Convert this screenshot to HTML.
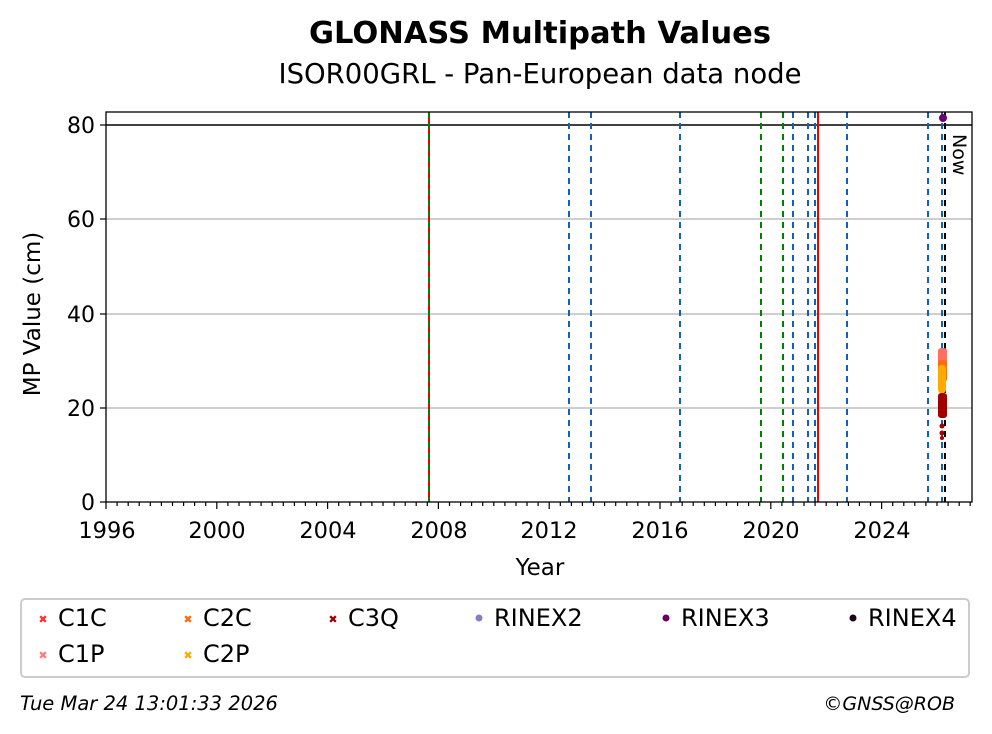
<!DOCTYPE html>
<html><head><meta charset="utf-8"><style>
body{margin:0;background:#fff;}
svg{display:block;font-family:"DejaVu Sans","Liberation Sans",sans-serif;}
</style></head><body>
<svg width="992" height="734" viewBox="0 0 992 734" xmlns="http://www.w3.org/2000/svg">
<rect width="992" height="734" fill="#fff"/>
<text x="540" y="43" text-anchor="middle" font-size="30.5" font-weight="bold">GLONASS Multipath Values</text>
<text x="540" y="83" text-anchor="middle" font-size="27.5">ISOR00GRL - Pan-European data node</text>
<g stroke="#b0b0b0" stroke-width="1.2">
<line x1="106" x2="972" y1="408" y2="408"/>
<line x1="106" x2="972" y1="314" y2="314"/>
<line x1="106" x2="972" y1="219" y2="219"/>
</g>
<line x1="106" x2="972" y1="125" y2="125" stroke="#000" stroke-width="1.5"/>
<g stroke-width="2" stroke-dasharray="6,5">
<line x1="429" x2="429" y1="112" y2="502" stroke="#e00" stroke-dasharray="none"/>
<line x1="429" x2="429" y1="112" y2="502" stroke="#008000"/>
<line x1="569" x2="569" y1="112" y2="502" stroke="#1060c0"/>
<line x1="591" x2="591" y1="112" y2="502" stroke="#1060c0"/>
<line x1="680" x2="680" y1="112" y2="502" stroke="#1060c0"/>
<line x1="761" x2="761" y1="112" y2="502" stroke="#008000"/>
<line x1="783" x2="783" y1="112" y2="502" stroke="#008000"/>
<line x1="793" x2="793" y1="112" y2="502" stroke="#1060c0"/>
<line x1="808" x2="808" y1="112" y2="502" stroke="#1060c0"/>
<line x1="815" x2="815" y1="112" y2="502" stroke="#1060c0"/>
<line x1="818" x2="818" y1="112" y2="502" stroke="#e00" stroke-dasharray="none"/>
<line x1="847" x2="847" y1="112" y2="502" stroke="#1060c0"/>
<line x1="928" x2="928" y1="112" y2="502" stroke="#1060c0"/>
<line x1="942" x2="942" y1="112" y2="502" stroke="#1060c0"/>
<line x1="945" x2="945" y1="112" y2="502" stroke="#000"/>
</g>
<g>
<rect x="938" y="348" width="9" height="32" fill="#ff7060" rx="3"/>
<rect x="938" y="360" width="9" height="22" fill="#ff6a10" rx="3"/>
<rect x="938" y="365" width="8" height="28" fill="#ffaa00" rx="3"/>
<rect x="938" y="393" width="9" height="25" fill="#a00000" rx="3"/>
<circle cx="942" cy="426" r="2.5" fill="#a00000"/>
<circle cx="942" cy="433" r="2.5" fill="#a00000"/>
<circle cx="942" cy="438" r="2" fill="#a00000"/>
<circle cx="943" cy="118" r="4" fill="#6a0070"/>
</g>
<text x="953" y="134" font-size="19" transform="rotate(90 953 134)">Now</text>
<rect x="106" y="112" width="866" height="390" fill="none" stroke="#000" stroke-width="1.3"/>
<g stroke="#000" stroke-width="1.2">
<line x1="106.0" x2="106.0" y1="502" y2="509"/><line x1="117.1" x2="117.1" y1="502" y2="506"/><line x1="128.2" x2="128.2" y1="502" y2="506"/><line x1="139.2" x2="139.2" y1="502" y2="506"/><line x1="150.3" x2="150.3" y1="502" y2="506"/><line x1="161.4" x2="161.4" y1="502" y2="506"/><line x1="172.5" x2="172.5" y1="502" y2="506"/><line x1="183.6" x2="183.6" y1="502" y2="506"/><line x1="194.6" x2="194.6" y1="502" y2="506"/><line x1="205.7" x2="205.7" y1="502" y2="506"/>
<line x1="216.8" x2="216.8" y1="502" y2="509"/><line x1="227.9" x2="227.9" y1="502" y2="506"/><line x1="239.0" x2="239.0" y1="502" y2="506"/><line x1="250.0" x2="250.0" y1="502" y2="506"/><line x1="261.1" x2="261.1" y1="502" y2="506"/><line x1="272.2" x2="272.2" y1="502" y2="506"/><line x1="283.3" x2="283.3" y1="502" y2="506"/><line x1="294.4" x2="294.4" y1="502" y2="506"/><line x1="305.4" x2="305.4" y1="502" y2="506"/><line x1="316.5" x2="316.5" y1="502" y2="506"/>
<line x1="327.6" x2="327.6" y1="502" y2="509"/><line x1="338.7" x2="338.7" y1="502" y2="506"/><line x1="349.8" x2="349.8" y1="502" y2="506"/><line x1="360.8" x2="360.8" y1="502" y2="506"/><line x1="371.9" x2="371.9" y1="502" y2="506"/><line x1="383.0" x2="383.0" y1="502" y2="506"/><line x1="394.1" x2="394.1" y1="502" y2="506"/><line x1="405.2" x2="405.2" y1="502" y2="506"/><line x1="416.2" x2="416.2" y1="502" y2="506"/><line x1="427.3" x2="427.3" y1="502" y2="506"/>
<line x1="438.4" x2="438.4" y1="502" y2="509"/><line x1="449.5" x2="449.5" y1="502" y2="506"/><line x1="460.6" x2="460.6" y1="502" y2="506"/><line x1="471.6" x2="471.6" y1="502" y2="506"/><line x1="482.7" x2="482.7" y1="502" y2="506"/><line x1="493.8" x2="493.8" y1="502" y2="506"/><line x1="504.9" x2="504.9" y1="502" y2="506"/><line x1="516.0" x2="516.0" y1="502" y2="506"/><line x1="527.0" x2="527.0" y1="502" y2="506"/><line x1="538.1" x2="538.1" y1="502" y2="506"/>
<line x1="549.2" x2="549.2" y1="502" y2="509"/><line x1="560.3" x2="560.3" y1="502" y2="506"/><line x1="571.4" x2="571.4" y1="502" y2="506"/><line x1="582.4" x2="582.4" y1="502" y2="506"/><line x1="593.5" x2="593.5" y1="502" y2="506"/><line x1="604.6" x2="604.6" y1="502" y2="506"/><line x1="615.7" x2="615.7" y1="502" y2="506"/><line x1="626.8" x2="626.8" y1="502" y2="506"/><line x1="637.8" x2="637.8" y1="502" y2="506"/><line x1="648.9" x2="648.9" y1="502" y2="506"/>
<line x1="660.0" x2="660.0" y1="502" y2="509"/><line x1="671.1" x2="671.1" y1="502" y2="506"/><line x1="682.2" x2="682.2" y1="502" y2="506"/><line x1="693.2" x2="693.2" y1="502" y2="506"/><line x1="704.3" x2="704.3" y1="502" y2="506"/><line x1="715.4" x2="715.4" y1="502" y2="506"/><line x1="726.5" x2="726.5" y1="502" y2="506"/><line x1="737.6" x2="737.6" y1="502" y2="506"/><line x1="748.6" x2="748.6" y1="502" y2="506"/><line x1="759.7" x2="759.7" y1="502" y2="506"/>
<line x1="770.8" x2="770.8" y1="502" y2="509"/><line x1="781.9" x2="781.9" y1="502" y2="506"/><line x1="793.0" x2="793.0" y1="502" y2="506"/><line x1="804.0" x2="804.0" y1="502" y2="506"/><line x1="815.1" x2="815.1" y1="502" y2="506"/><line x1="826.2" x2="826.2" y1="502" y2="506"/><line x1="837.3" x2="837.3" y1="502" y2="506"/><line x1="848.4" x2="848.4" y1="502" y2="506"/><line x1="859.4" x2="859.4" y1="502" y2="506"/><line x1="870.5" x2="870.5" y1="502" y2="506"/>
<line x1="881.6" x2="881.6" y1="502" y2="509"/><line x1="892.7" x2="892.7" y1="502" y2="506"/><line x1="903.8" x2="903.8" y1="502" y2="506"/><line x1="914.8" x2="914.8" y1="502" y2="506"/><line x1="925.9" x2="925.9" y1="502" y2="506"/><line x1="937.0" x2="937.0" y1="502" y2="506"/><line x1="948.1" x2="948.1" y1="502" y2="506"/><line x1="959.2" x2="959.2" y1="502" y2="506"/><line x1="970.2" x2="970.2" y1="502" y2="506"/>
<line x1="100" x2="106" y1="502" y2="502"/><line x1="100" x2="106" y1="408" y2="408"/><line x1="100" x2="106" y1="314" y2="314"/><line x1="100" x2="106" y1="219" y2="219"/><line x1="100" x2="106" y1="125" y2="125"/>
</g>
<g font-size="22" text-anchor="end">
<text x="95" y="510">0</text><text x="95" y="416">20</text><text x="95" y="322">40</text><text x="95" y="227">60</text><text x="95" y="133">80</text>
</g>
<g font-size="22.5" text-anchor="middle">
<text x="107" y="538">1996</text><text x="217" y="538">2000</text><text x="328" y="538">2004</text><text x="439" y="538">2008</text><text x="549" y="538">2012</text><text x="660" y="538">2016</text><text x="771" y="538">2020</text><text x="882" y="538">2024</text>
</g>
<text x="540" y="575" text-anchor="middle" font-size="23">Year</text>
<text x="40" y="314" text-anchor="middle" font-size="23" transform="rotate(-90 40 314)">MP Value (cm)</text>
<rect x="21" y="599" width="948" height="78" fill="#fff" stroke="#ccc" stroke-width="2" rx="4"/>
<g font-size="24">
<text x="43" y="623" font-size="11" fill="#ff3030" text-anchor="middle">✖</text><text x="58" y="626">C1C</text>
<text x="188" y="623" font-size="11" fill="#ff6a10" text-anchor="middle">✖</text><text x="203" y="626">C2C</text>
<text x="333" y="623" font-size="11" fill="#a00000" text-anchor="middle">✖</text><text x="348" y="626">C3Q</text>
<circle cx="479" cy="618" r="3.5" fill="#8080c0"/><text x="494" y="626">RINEX2</text>
<circle cx="666" cy="618" r="3.5" fill="#6a0060"/><text x="681" y="626">RINEX3</text>
<circle cx="853" cy="618" r="3.5" fill="#200020"/><text x="868" y="626">RINEX4</text>
<text x="43" y="659" font-size="11" fill="#ff7a7a" text-anchor="middle">✖</text><text x="58" y="662">C1P</text>
<text x="188" y="659" font-size="11" fill="#ffaa00" text-anchor="middle">✖</text><text x="203" y="662">C2P</text>
</g>
<text x="20" y="710" font-size="19.5" font-style="italic">Tue Mar 24 13:01:33 2026</text>
<text x="955" y="710" font-size="19" font-style="italic" text-anchor="end">©GNSS@ROB</text>
</svg>
</body></html>
